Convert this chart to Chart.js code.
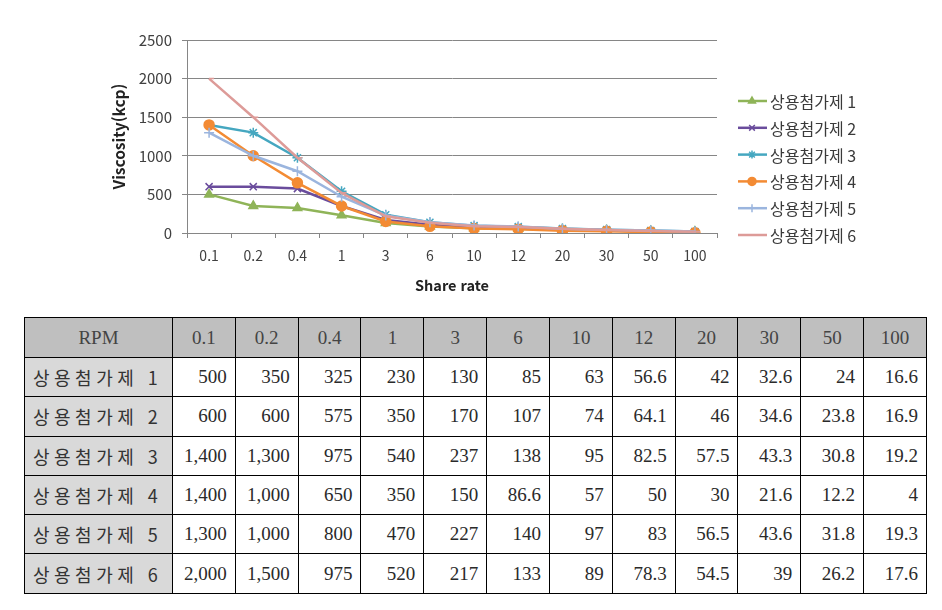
<!DOCTYPE html>
<html lang="ko">
<head>
  <meta charset="UTF-8">
  <title>Viscosity</title>
  <script src="https://cdn.jsdelivr.net/npm/chart.js@4.4.0/dist/chart.umd.min.js"></script>
  <style>
    body { margin: 0; background: #fff; }
    #chart { position: absolute; left: 0; top: 0; }
    table {
      position: absolute; left: 24px; top: 317px;
      border-collapse: collapse; table-layout: fixed; width: 903px;
      font-family: "Liberation Serif", "Noto Sans CJK KR", serif;
      font-size: 19px; color: #2a2a2a;
    }
    th, td { border: 1px solid #000; height: 39.3px; padding: 0 8px 0 2px; font-weight: normal; box-sizing: border-box; white-space: nowrap; overflow: hidden; }
    th { background: #bfbfbf; text-align: center; height: 40px; color: #444; padding: 0; }
    td { text-align: right; }
    td.lab { background: #d9d9d9; text-align: left; font-family: "Noto Sans CJK KR"; font-size: 18px; letter-spacing: 4.5px; padding-left: 8px; color: #333; }
  </style>
</head>
<body>
  <canvas id="chart" width="942" height="300"></canvas>
  <table id="tbl"></table>
  <script>

const categories = ['0.1', '0.2', '0.4', '1', '3', '6', '10', '12', '20', '30', '50', '100'];
const names = ['상용첨가제 1', '상용첨가제 2', '상용첨가제 3', '상용첨가제 4', '상용첨가제 5', '상용첨가제 6'];

const series1 = [500, 350, 325, 230, 130, 85, 63, 56.6, 42, 32.6, 24, 16.6];
const series2 = [600, 600, 575, 350, 170, 107, 74, 64.1, 46, 34.6, 23.8, 16.9];
const series3 = [1400, 1300, 975, 540, 237, 138, 95, 82.5, 57.5, 43.3, 30.8, 19.2];
const series4 = [1400, 1000, 650, 350, 150, 86.6, 57, 50, 30, 21.6, 12.2, 4];
const series5 = [1300, 1000, 800, 470, 227, 140, 97, 83, 56.5, 43.6, 31.8, 19.3];
const series6 = [2000, 1500, 975, 520, 217, 133, 89, 78.3, 54.5, 39, 26.2, 17.6];

const allSeries = [series1, series2, series3, series4, series5, series6];
const colors = ['#8fb458', '#6a4c9c', '#45a7c0', '#f38b34', '#9bb5de', '#dd9b98'];
const markers = ['triangle', 'crossRot', 'star', 'circle', 'cross', 'dash'];

// table
const tbl = document.getElementById('tbl');
let html = '<colgroup><col style="width:148px">' + categories.map(() => '<col>').join('') + '</colgroup>';
html += '<tr><th>RPM</th>' + categories.map(c => '<th>' + c + '</th>').join('') + '</tr>';
allSeries.forEach((s, i) => {
  html += '<tr><td class="lab">' + names[i] + '</td>' +
    s.map(v => '<td>' + v.toLocaleString('en-US') + '</td>').join('') + '</tr>';
});
tbl.innerHTML = html;

// legend drawn on the right like excel (line + marker)
const sideLegend = {
  id: 'sideLegend',
  afterDraw(chart) {
    const ctx = chart.ctx;
    chart.data.datasets.forEach((ds, i) => {
      const y = 101 + i * 26.8;
      ctx.save();
      ctx.strokeStyle = ds.borderColor;
      ctx.lineWidth = 2.5;
      ctx.beginPath();
      ctx.moveTo(738, y);
      ctx.lineTo(767, y);
      ctx.stroke();
      ctx.fillStyle = ds.pointBackgroundColor;
      ctx.strokeStyle = ds.pointBorderColor;
      ctx.lineWidth = ds.pointBorderWidth;
      Chart.helpers.drawPoint(ctx, { pointStyle: ds.pointStyle, radius: 4, borderWidth: ds.pointBorderWidth, rotation: 0 }, 752, y);
      ctx.fillStyle = '#3a3a3a';
      ctx.font = '16px "Noto Sans CJK KR"';
      ctx.textBaseline = 'middle';
      ctx.fillText(ds.label, 770, y + 1);
      ctx.restore();
    });
  }
};

const ctx = document.getElementById('chart').getContext('2d');
new Chart(ctx, {
  type: 'line',
  data: {
    labels: categories,
    datasets: allSeries.map((s, i) => ({
      label: names[i],
      data: s,
      borderColor: colors[i],
      backgroundColor: colors[i],
      pointBackgroundColor: colors[i],
      pointBorderColor: colors[i],
      pointBorderWidth: 1.5,
      pointStyle: markers[i],
      pointRadius: 5,
      borderWidth: 2.5,
      tension: 0,
      fill: false,
      order: 6 - i
    }))
  },
  options: {
    responsive: false,
    animation: false,
    layout: { padding: { left: 100, right: 225, top: 40, bottom: 0 } },
    plugins: { legend: { display: false }, tooltip: { enabled: false } },
    scales: {
      x: {
        offset: true,
        grid: { offset: true, drawOnChartArea: false, tickLength: 5, color: '#868686' },
        border: { color: '#868686' },
        ticks: { padding: 9, color: '#404040', font: { family: 'Noto Sans CJK KR', size: 14 }, maxRotation: 0 },
        title: { display: true, text: 'Share rate', color: '#222', font: { family: 'Noto Sans CJK KR', size: 14.5, weight: 'bold' }, padding: { top: 0, bottom: 6 } },
        afterFit(scale) { scale.height = 67; }
      },
      y: {
        min: 0, max: 2500,
        grid: { color: '#868686', tickLength: 5 },
        border: { color: '#868686' },
        ticks: { stepSize: 500, padding: 10, color: '#404040', font: { family: 'Noto Sans CJK KR', size: 15 }, callback: v => String(v) },
        title: { display: true, text: 'Viscosity(kcp)', color: '#222', font: { family: 'Noto Sans CJK KR', size: 15.5, weight: 'bold' }, padding: { top: 10, bottom: 0 } },
        afterFit(scale) { scale.width = 87; }
      }
    }
  },
  plugins: [sideLegend]
});
  </script>
</body>
</html>
